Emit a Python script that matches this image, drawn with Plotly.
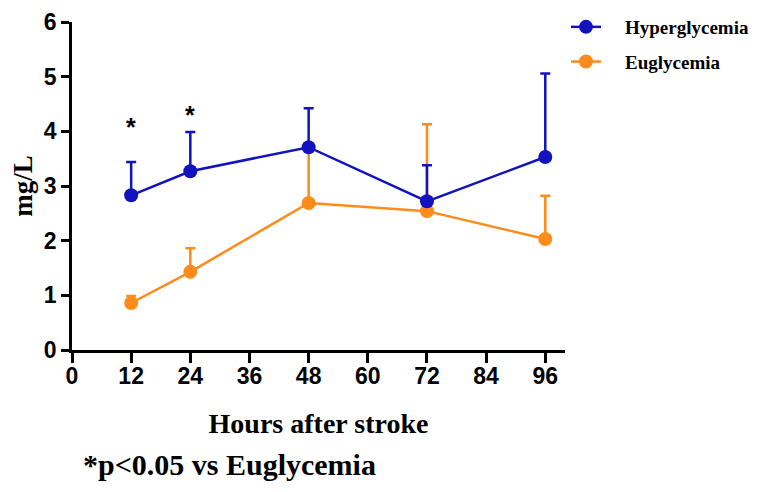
import plotly.graph_objects as go

hours = [12, 24, 48, 72, 96]
hyper_mean = [2.83, 3.27, 3.71, 2.72, 3.53]
hyper_err = [0.61, 0.72, 0.71, 0.66, 1.53]
eugly_mean = [0.86, 1.43, 2.69, 2.54, 2.03]
eugly_err = [0.13, 0.43, 0.95, 1.59, 0.79]
x_ticks = [0, 12, 24, 36, 48, 60, 72, 84, 96]
y_ticks = [0, 1, 2, 3, 4, 5, 6]
sig_hours = [12, 24]
sig_y = [4.08, 4.30]

BLUE = "rgb(18,18,190)"
ORANGE = "rgb(255,140,26)"
SERIF = "Liberation Serif, Times New Roman, serif"
SANS = "Liberation Sans, Arial, sans-serif"
NB = "\u00a0\u00a0\u00a0\u00a0"

W, H = 761, 476

fig = go.Figure()
fig.add_trace(go.Scatter(
    x=hours, y=eugly_mean, mode="lines+markers", name=NB + "Euglycemia",
    legendgroup="e", legendrank=2,
    line=dict(color=ORANGE, width=2.5), marker=dict(color=ORANGE, size=14),
    error_y=dict(type="data", array=eugly_err, arrayminus=[0]*5, symmetric=False,
                 color=ORANGE, thickness=2.5, width=5)))
fig.add_trace(go.Scatter(
    x=hours, y=hyper_mean, mode="lines+markers", name=NB + "Hyperglycemia",
    legendgroup="h", legendrank=1,
    line=dict(color=BLUE, width=2.5), marker=dict(color=BLUE, size=14),
    error_y=dict(type="data", array=hyper_err, arrayminus=[0]*5, symmetric=False,
                 color=BLUE, thickness=2.5, width=5)))

for hx, hy in zip(sig_hours, sig_y):
    fig.add_annotation(x=hx, y=hy, text="*", showarrow=False,
                       font=dict(family=SANS, size=25, color="black", weight="bold"))

fig.add_annotation(xref="paper", yref="paper", x=0.018, y=-0.3506, xanchor="left", yanchor="middle",
                   text="*p&lt;0.05 vs Euglycemia", showarrow=False,
                   font=dict(family=SERIF, size=30, color="black", weight="bold"))

fig.update_layout(
    width=W, height=H,
    margin=dict(l=64, r=204, t=14, b=134),
    paper_bgcolor="white", plot_bgcolor="white",
    legend=dict(xref="container", yref="container", x=558/W, y=1.0,
                xanchor="left", yanchor="top",
                font=dict(family=SERIF, size=19, color="black", weight="bold"),
                traceorder="grouped", tracegroupgap=7,
                bgcolor="rgba(0,0,0,0)"),
    xaxis=dict(range=[0, 100], tickvals=x_ticks, ticktext=[str(v) for v in x_ticks],
               automargin=False,
               showgrid=False, zeroline=False, showline=True, linecolor="black", linewidth=2.5,
               ticks="outside", ticklen=10, tickwidth=2.5, tickcolor="black",
               ticklabelstandoff=-6,
               tickfont=dict(family=SANS, size=23, color="black", weight="bold"),
               title=dict(text="Hours after stroke", standoff=26,
                          font=dict(family=SERIF, size=28, color="black", weight="bold"))),
    yaxis=dict(range=[0, 6], tickvals=y_ticks, showgrid=False, zeroline=False,
               automargin=False,
               showline=True, linecolor="black", linewidth=2.5,
               ticks="outside", ticklen=8, tickwidth=2.5, tickcolor="black",
               tickfont=dict(family=SANS, size=23, color="black", weight="bold"),
               title=dict(text="mg/L", standoff=10,
                          font=dict(family=SERIF, size=27, color="black", weight="bold"))),
)

fig.write_html("out.html")
